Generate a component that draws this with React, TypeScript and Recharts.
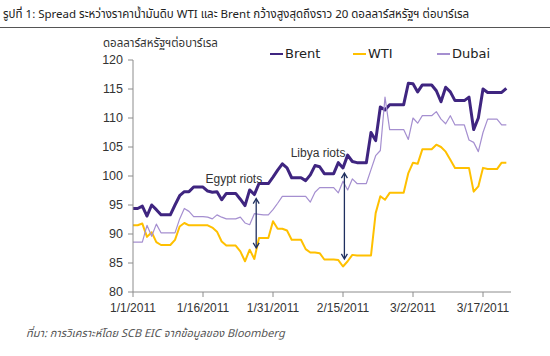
import React from 'react';
import { LineChart, Line, XAxis, YAxis, ReferenceLine } from 'recharts';

// Day offsets from 1/1/2011
const days = [
  0, 1, 2, 3, 4, 5, 6, 7, 8, 9,
  10, 11, 12, 13, 14, 15, 16, 17, 18, 19,
  20, 21, 22, 23, 24, 25, 26, 27, 28, 29,
  30, 31, 32, 33, 34, 35, 36, 37, 38, 39,
  40, 41, 42, 43, 44, 45, 46, 47, 48, 49,
  50, 51, 52, 53, 54, 55, 56, 57, 58, 59,
  60, 61, 62, 63, 64, 65, 66, 67, 68, 69,
  70, 71, 72, 73, 74, 75, 76, 77, 78, 79,
  80,
];

const brent = [
  94.4, 94.4, 94.8, 93.1, 95.0, 94.2, 93.3, 93.3, 93.3, 95.0,
  96.6, 97.3, 97.3, 98.1, 98.1, 98.1, 97.4, 97.2, 97.3, 95.9,
  97.0, 97.0, 97.0, 96.0, 94.9, 97.6, 96.8, 98.7, 98.7, 98.7,
  99.8, 101.0, 102.1, 101.4, 99.7, 99.7, 99.7, 99.2, 100.2, 101.8,
  101.6, 100.4, 100.4, 100.4, 102.3, 101.4, 103.6, 102.5, 102.3, 102.3,
  102.3, 107.5, 106.1, 111.9, 111.4, 112.3, 112.3, 112.3, 112.3, 116.0,
  115.9, 114.5, 115.7, 115.7, 115.7, 114.7, 112.8, 115.3, 114.5, 113.0,
  113.0, 113.0, 113.6, 108.0, 110.0, 115.0, 114.4, 114.4, 114.4, 114.4,
  115.1,
];

const wti = [
  91.5, 91.5, 91.8, 89.5, 90.3, 88.6, 88.1, 88.1, 88.1, 89.0,
  91.3, 91.9, 91.5, 91.5, 91.5, 91.5, 91.5, 91.1, 90.4, 88.7,
  88.0, 88.0, 88.0, 87.0, 85.3, 87.3, 85.7, 89.3, 89.3, 89.3,
  92.2, 90.9, 90.9, 90.6, 89.0, 89.0, 89.0, 87.4, 86.8, 86.8,
  86.7, 85.6, 85.6, 85.6, 85.5, 84.4, 85.3, 86.4, 86.3, 86.3,
  86.3, 86.3, 93.6, 96.5, 95.9, 97.1, 97.1, 97.1, 97.1, 100.5,
  102.3, 102.1, 104.6, 104.6, 104.6, 105.4, 105.0, 104.2, 102.8, 101.4,
  101.4, 101.4, 101.4, 97.3, 98.2, 101.4, 101.2, 101.2, 101.2, 102.3,
  102.3,
];

const dubai = [
  88.6, 88.6, 88.6, 91.5, 89.6, 91.7, 90.2, 90.2, 90.2, 90.2,
  92.6, 94.4, 93.9, 93.0, 93.0, 93.0, 92.9, 92.6, 93.3, 92.9,
  92.6, 92.6, 92.6, 92.9, 91.9, 91.6, 93.5, 93.4, 93.3, 93.3,
  94.2, 95.3, 96.5, 96.5, 96.5, 96.5, 96.5, 96.5, 95.5, 97.2,
  98.0, 98.0, 98.0, 98.0, 97.1, 99.1, 97.6, 99.5, 98.7, 98.7,
  98.7, 101.1, 103.5, 104.4, 113.6, 108.0, 108.0, 108.0, 108.0, 106.3,
  110.0, 109.1, 110.4, 110.4, 110.4, 111.1, 109.8, 109.0, 110.4, 108.8,
  108.8, 108.8, 106.2, 105.8, 104.2, 107.5, 109.8, 109.8, 109.8, 108.8,
  108.8,
];

const xTicks = [0, 15, 30, 45, 60, 75];
const xTickLabels = ['1/1/2011', '1/16/2011', '1/31/2011', '2/15/2011', '3/2/2011', '3/17/2011'];
const yTicks = [80, 85, 90, 95, 100, 105, 110, 115, 120];

const seriesNames = ['Brent', 'WTI', 'Dubai'];
const seriesKeys = ['brent', 'wti', 'dubai'];

const eventLabels = ['Egypt riots', 'Libya riots'];
const eventDays = [26.4, 45.3];
const eventTops = [96.1, 100.5];
const eventBottoms = [87.6, 85.7];

const titleText = 'รูปที่ 1: Spread ระหว่างราคาน้ำมันดิบ WTI และ Brent กว้างสูงสุดถึงราว 20 ดอลลาร์สหรัฐฯ ต่อบาร์เรล';
const unitText = 'ดอลลาร์สหรัฐฯต่อบาร์เรล';
const sourceText = 'ที่มา:  การวิเคราะห์โดย SCB EIC จากข้อมูลของ Bloomberg';

const data = days.map((d, i) => ({ day: d, brent: brent[i], wti: wti[i], dubai: dubai[i] }));

const colors: Record<string, string> = { brent: '#3f2580', wti: '#ffc000', dubai: '#a58fd0' };
const widths: Record<string, number> = { brent: 3, wti: 2, dubai: 1.2 };
const legendLeft = [270, 353, 437];
const labelShift = [6, 1];

const THAI = "Tahoma, 'Noto Sans Thai', 'Noto Sans Thai UI', 'Noto Sans', sans-serif";
const LAT = "'Liberation Sans', Arial, sans-serif";

const makeArrow = (idx: number) => (props: any) => {
  const { x1, y1, x2, y2 } = props;
  const x = x1;
  const top = Math.min(y1, y2);
  const bot = Math.max(y1, y2);
  const c = '#1f2f5f';
  const h = 5;
  const w = 3;
  return (
    <g>
      <line x1={x} y1={top + 1} x2={x2} y2={bot - 1} stroke={c} strokeWidth={1.3} />
      <path d={`M${x - w},${top + h} L${x},${top} L${x + w},${top + h}`} fill="none" stroke={c} strokeWidth={1.3} />
      <path d={`M${x - w},${bot - h} L${x},${bot} L${x + w},${bot - h}`} fill="none" stroke={c} strokeWidth={1.3} />
      <text x={x + labelShift[idx]} y={top - 16} textAnchor="end" fontFamily={LAT} fontSize={12} fill="#333">
        {eventLabels[idx]}
      </text>
    </g>
  );
};

const XTick = (props: any) => {
  const { x, y, payload } = props;
  const i = xTicks.indexOf(payload.value);
  return (
    <text x={x} y={y} dy="0.71em" textAnchor="middle" fontFamily={LAT} fontSize={12} fill="#333">
      {xTickLabels[i]}
    </text>
  );
};

export default function App() {
  return (
    <div style={{ position: 'absolute', left: 0, top: 0, width: 550, height: 356, background: '#fff', overflow: 'hidden' }}>
      <div style={{ position: 'absolute', left: 3, top: 7, fontFamily: THAI, fontSize: 11.5, lineHeight: '16px', color: '#222', whiteSpace: 'nowrap' }}>
        {titleText}
      </div>
      <div style={{ position: 'absolute', left: 0, top: 27, width: 550, height: 1, background: '#555' }} />
      <div style={{ position: 'absolute', left: 0, top: 0 }}>
        <LineChart width={550} height={356} data={data} margin={{ top: 60, right: 39, bottom: 34, left: 0 }}>
          <XAxis
            dataKey="day"
            type="number"
            domain={[0, 81]}
            ticks={xTicks}
            tick={<XTick />}
            tickSize={5}
            tickMargin={6}
            height={30}
            stroke="#8c8c8c"
            allowDataOverflow
          />
          <YAxis
            type="number"
            domain={[80, 120]}
            ticks={yTicks}
            width={133}
            tickSize={5}
            tickMargin={5}
            stroke="#8c8c8c"
            tick={{ fill: '#333', fontSize: 12.5, fontFamily: LAT }}
            interval={0}
          />
          {seriesKeys.map((k, i) => (
            <Line
              key={k}
              dataKey={k}
              name={seriesNames[i]}
              type="linear"
              stroke={colors[k]}
              strokeWidth={widths[k]}
              dot={false}
              activeDot={false}
              isAnimationActive={false}
              strokeLinejoin="round"
            />
          ))}
          {eventLabels.map((lab, i) => (
            <ReferenceLine
              key={lab}
              segment={[{ x: eventDays[i], y: eventTops[i] }, { x: eventDays[i], y: eventBottoms[i] }]}
              shape={makeArrow(i)}
            />
          ))}
        </LineChart>
      </div>
      <div style={{ position: 'absolute', left: 103, top: 37, fontFamily: THAI, fontSize: 11.5, lineHeight: '14px', color: '#333', whiteSpace: 'nowrap' }}>
        {unitText}
      </div>
      {seriesKeys.map((k, i) => (
        <div key={k} style={{ position: 'absolute', left: legendLeft[i], top: 45, display: 'flex', alignItems: 'center', whiteSpace: 'nowrap' }}>
          <span style={{ display: 'inline-block', width: 13, height: 2, background: colors[k] }} />
          <span style={{ marginLeft: 2, fontFamily: "'DejaVu Sans', sans-serif", fontSize: 13, color: '#222', lineHeight: '18px' }}>
            {seriesNames[i]}
          </span>
        </div>
      ))}
      <div style={{ position: 'absolute', left: 26, top: 325, fontFamily: THAI, fontSize: 11, fontStyle: 'italic', color: '#555', whiteSpace: 'nowrap' }}>
        {sourceText}
      </div>
    </div>
  );
}
